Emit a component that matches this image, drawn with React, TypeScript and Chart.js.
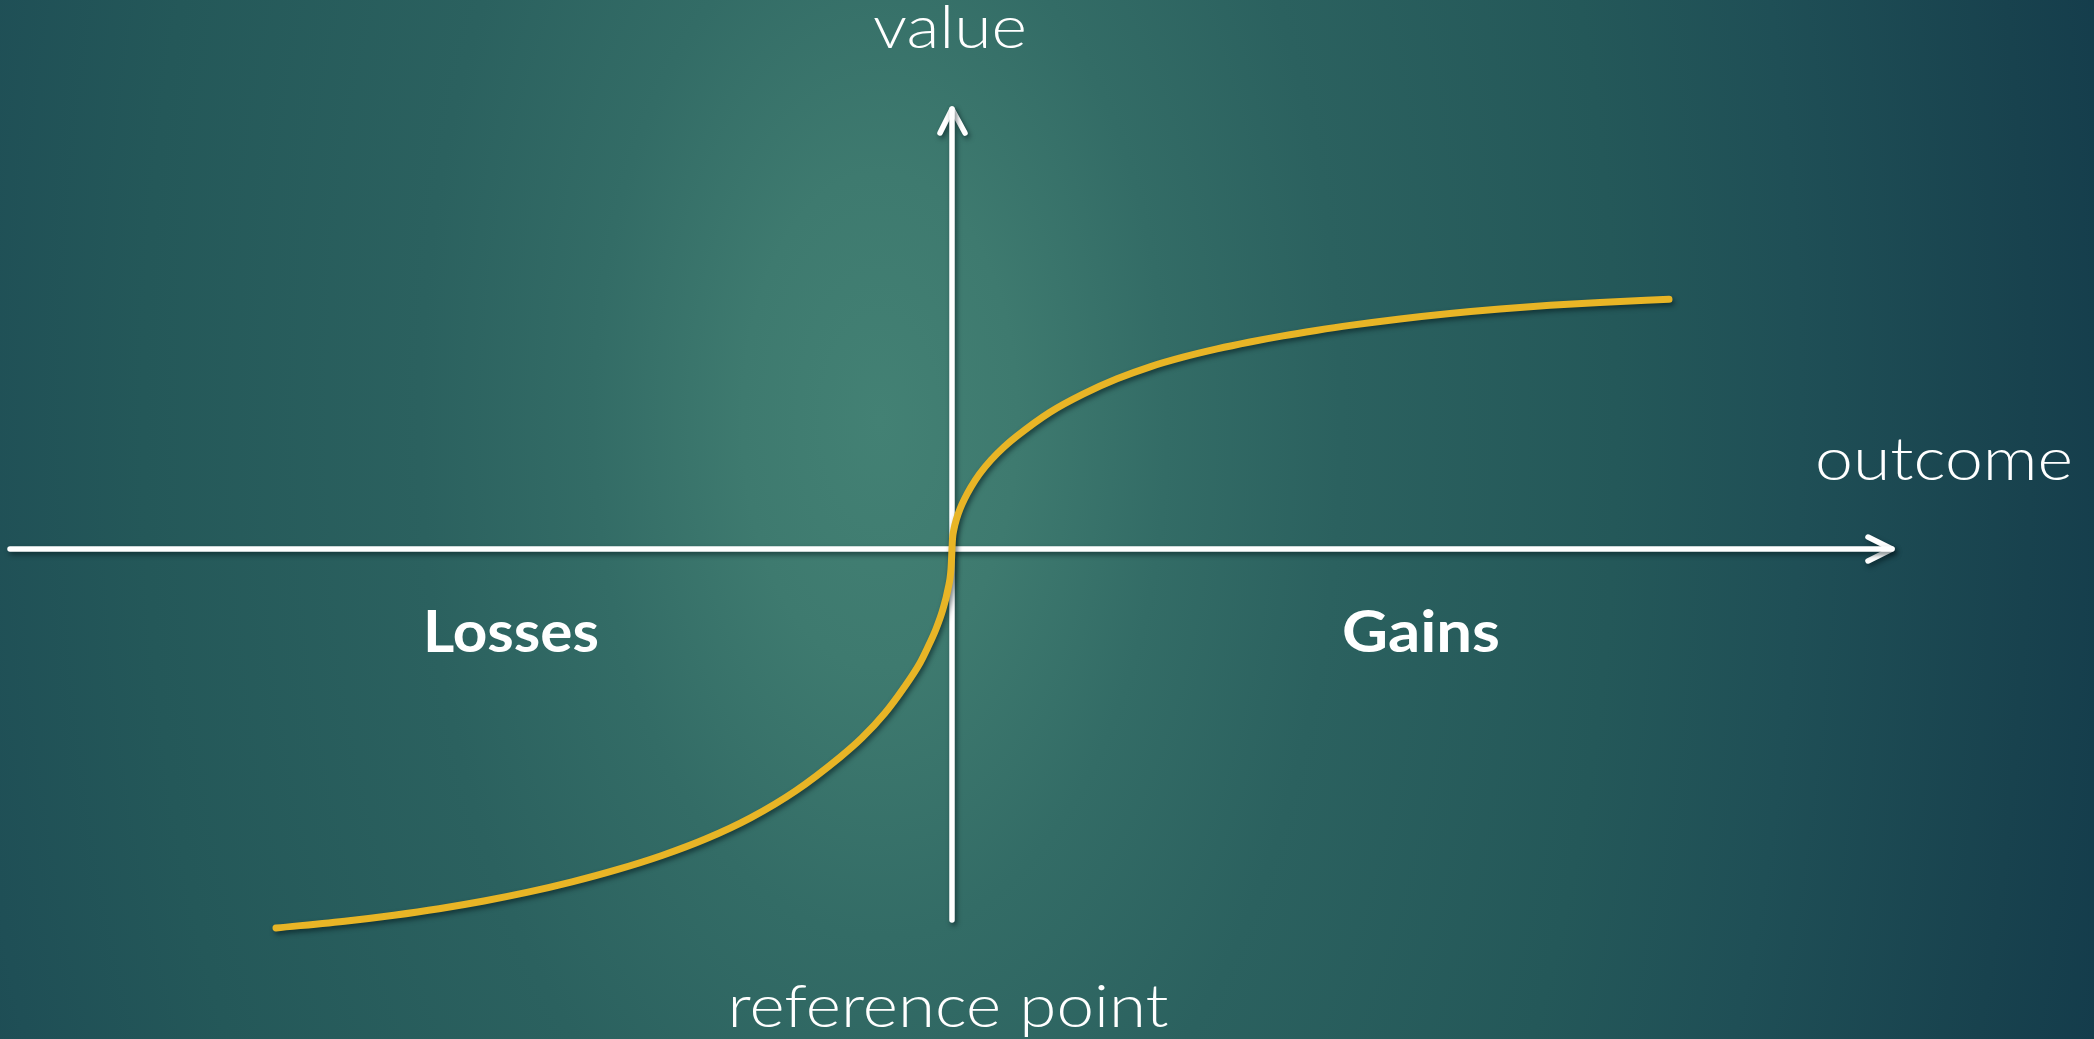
import React, { useEffect, useRef } from "react";
import { Chart, registerables } from "chart.js";

Chart.register(...registerables);

// Value function (units: outcome / value relative to the reference point)
const lossOutcome = [-676, -603, -558, -513, -468, -424, -380, -335, -290, -246, -201, -156, -112, -90, -67, -49, -32, -25, -16, -9, -4, -1];
const lossValue = [-379, -371.7, -366.2, -359.7, -352, -343.2, -332.9, -320.7, -306.5, -289.8, -268.6, -241.6, -208.2, -188.8, -164, -140, -114, -100, -80, -60, -40, -20];
const gainOutcome = [0, 0.5, 2, 4.5, 8, 12.5, 19, 27.5, 39, 52, 65, 98, 131, 165, 198, 231, 265, 298, 331, 364, 398, 448, 498, 548, 598, 648, 717];
const gainValue = [0, 10, 20, 30, 40, 50, 62, 75, 89, 102, 113, 136.8, 154.9, 170.2, 182.2, 191.8, 200.1, 207, 213.1, 218.5, 223.6, 230.1, 235.6, 240.1, 243.7, 246.6, 249.7];

// Axes (outcome axis and value axis) with their arrow heads
const outcomeAxisX = [-942, 940];
const outcomeAxisY = [0, 0];
const outcomeArrowX = [916, 940, 916];
const outcomeArrowY = [12, 0, -12];
const valueAxisX = [0, 0];
const valueAxisY = [-371, 440];
const valueArrowX = [-12, 0, 13];
const valueArrowY = [416, 440, 416];

// Texts
const valueTitle = "value";
const outcomeTitle = "outcome";
const lossLabel = "Losses";
const gainLabel = "Gains";
const refLabel = "reference point";

const W = 2094;
const H = 1039;

const zip = (xs: number[], ys: number[]) => xs.map((x, i) => ({ x, y: ys[i] }));

export default function App() {
  const ref = useRef<HTMLCanvasElement | null>(null);

  useEffect(() => {
    document.body.style.margin = "0";
    const canvas = ref.current;
    if (!canvas) return;

    const bgPlugin = {
      id: "bg",
      beforeDraw(chart: any) {
        const ctx = chart.ctx as CanvasRenderingContext2D;
        const cx = 880;
        const cy = 420;
        const sy = 1.8;
        const R = 1322;
        ctx.save();
        ctx.fillStyle = "#12394a";
        ctx.fillRect(0, 0, W, H);
        ctx.translate(cx, cy);
        ctx.scale(1, sy);
        const g = ctx.createRadialGradient(0, 0, 0, 0, 0, R);
        g.addColorStop(0, "#438174");
        g.addColorStop(0.104, "#3e7a6f");
        g.addColorStop(0.217, "#336c66");
        g.addColorStop(0.348, "#2b615f");
        g.addColorStop(0.557, "#245859");
        g.addColorStop(0.696, "#1f4f56");
        g.addColorStop(0.87, "#18424e");
        g.addColorStop(1, "#12394a");
        ctx.fillStyle = g;
        ctx.fillRect(-cx, -cy / sy, W, H / sy + 2);
        ctx.restore();
      },
    };

    const shadowPlugin = {
      id: "shadow",
      beforeDatasetDraw(chart: any) {
        const ctx = chart.ctx as CanvasRenderingContext2D;
        ctx.save();
        ctx.shadowColor = "rgba(0,20,25,0.55)";
        ctx.shadowOffsetX = 2;
        ctx.shadowOffsetY = 3;
        ctx.shadowBlur = 5;
      },
      afterDatasetDraw(chart: any) {
        chart.ctx.restore();
      },
    };

    const drawText = (
      ctx: CanvasRenderingContext2D,
      text: string,
      cx: number,
      baseline: number,
      font: string,
      targetW: number
    ) => {
      ctx.save();
      ctx.font = font;
      ctx.fillStyle = "#ffffff";
      ctx.textAlign = "center";
      ctx.textBaseline = "alphabetic";
      const m = ctx.measureText(text).width || 1;
      const s = targetW / m;
      ctx.translate(cx, baseline);
      ctx.scale(s, 1);
      ctx.fillText(text, 0, 0);
      ctx.restore();
    };

    const textPlugin = {
      id: "texts",
      afterDraw(chart: any) {
        const ctx = chart.ctx as CanvasRenderingContext2D;
        const thin = '300 59px Lato, "Open Sans", sans-serif';
        const bold = '700 58px Lato, "Open Sans", sans-serif';
        drawText(ctx, valueTitle, 950, 48, thin, 154);
        drawText(ctx, outcomeTitle, 1944, 480, thin, 258);
        drawText(ctx, refLabel, 948, 1027, thin, 441);
        drawText(ctx, lossLabel, 511, 652, bold, 176);
        drawText(ctx, gainLabel, 1421, 652, bold, 158);
      },
    };

    const curve = [...zip(lossOutcome, lossValue), ...zip(gainOutcome, gainValue)];

    const axisStyle = {
      borderColor: "#ffffff",
      borderWidth: 5.5,
      pointRadius: 0,
      borderCapStyle: "round" as const,
      borderJoinStyle: "round" as const,
      tension: 0,
      fill: false,
    };

    const chart = new Chart(canvas, {
      type: "line",
      data: {
        datasets: [
          {
            label: "value function",
            data: curve,
            borderColor: "#e8b526",
            borderWidth: 7,
            pointRadius: 0,
            borderCapStyle: "round",
            borderJoinStyle: "round",
            cubicInterpolationMode: "monotone",
            fill: false,
          },
          { label: "outcome axis", data: zip(outcomeAxisX, outcomeAxisY), ...axisStyle },
          { label: "outcome arrow", data: zip(outcomeArrowX, outcomeArrowY), ...axisStyle },
          { label: "value axis", data: zip(valueAxisX, valueAxisY), ...axisStyle },
          { label: "value arrow", data: zip(valueArrowX, valueArrowY), ...axisStyle },
        ],
      },
      options: {
        animation: false,
        responsive: false,
        devicePixelRatio: 1,
        layout: { padding: 0 },
        parsing: false as any,
        normalized: true,
        plugins: {
          legend: { display: false },
          title: { display: false },
          tooltip: { enabled: false },
        },
        events: [],
        scales: {
          x: { type: "linear", min: -952, max: W - 952, display: false },
          y: { type: "linear", min: -(H - 549), max: 549, display: false },
        },
      },
      plugins: [bgPlugin, shadowPlugin, textPlugin],
    });

    return () => chart.destroy();
  }, []);

  return (
    <div style={{ position: "fixed", left: 0, top: 0, width: W, height: H }}>
      <canvas ref={ref} width={W} height={H} style={{ display: "block", width: W, height: H }} />
    </div>
  );
}
